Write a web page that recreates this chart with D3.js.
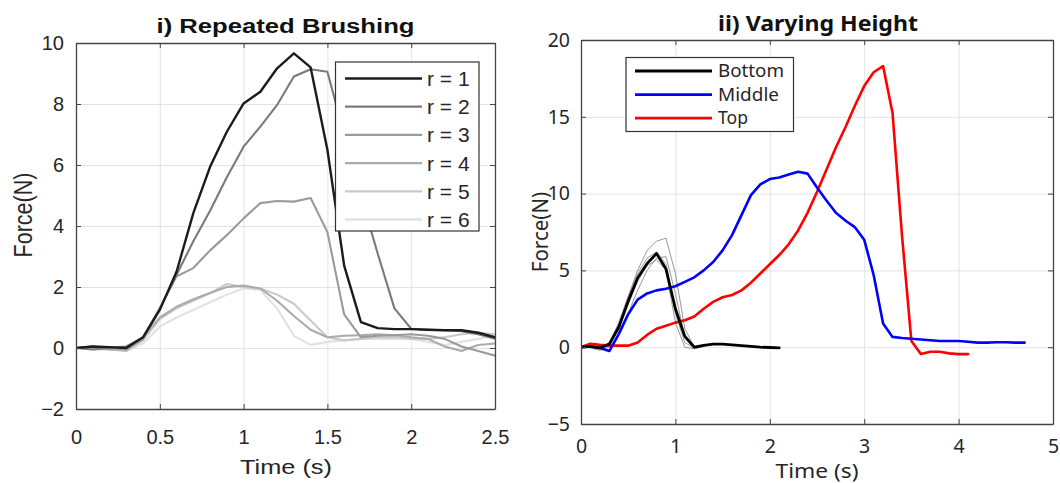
<!DOCTYPE html>
<html>
<head>
<meta charset="utf-8">
<script src="https://cdn.jsdelivr.net/npm/d3@7"></script>
<style>
  html, body { margin: 0; padding: 0; background: #fff; }
  svg { display: block; }
</style>
</head>
<body>
<svg id="chart" width="1060" height="483"></svg>
<script>
// ---------------- DATA ----------------
// Panel i) Repeated Brushing
const timeBrush = [0,0.1,0.2,0.3,0.4,0.5,0.6,0.7,0.8,0.9,1.0,1.1,1.2,1.3,1.4,1.5,1.6,1.7,1.8,1.9,2.0,2.1,2.2,2.3,2.4,2.5];
const brushLabels = ["r = 1","r = 2","r = 3","r = 4","r = 5","r = 6"];
const brushR1 = [0,0.05,0.03,0.0,0.35,1.25,2.5,4.42,5.94,7.09,8.02,8.4,9.17,9.66,9.2,6.5,2.7,0.85,0.65,0.62,0.62,0.6,0.58,0.58,0.5,0.35];
const brushR2 = [0,-0.05,0.0,0.05,0.35,1.3,2.4,3.5,4.5,5.6,6.6,7.26,7.97,8.9,9.14,9.06,7.0,5.0,3.1,1.3,0.63,0.6,0.58,0.55,0.45,0.3];
const brushR3 = [0,0.05,0.0,-0.05,0.3,1.3,2.35,2.62,3.2,3.7,4.25,4.75,4.82,4.8,4.92,3.8,1.1,0.35,0.4,0.42,0.45,0.4,0.3,0.05,-0.1,-0.25];
const brushR4 = [0,0.05,-0.05,-0.05,0.35,1.0,1.35,1.6,1.8,2.0,2.05,1.95,1.55,1.05,0.6,0.35,0.4,0.42,0.45,0.42,0.35,0.3,0.05,-0.1,0.1,0.15];
const brushR5 = [0,0.0,-0.05,-0.1,0.25,0.95,1.3,1.55,1.8,2.1,2.0,1.95,1.75,1.45,0.9,0.35,0.25,0.3,0.35,0.35,0.3,0.3,0.35,0.45,0.5,0.45];
const brushR6 = [0,-0.05,-0.05,-0.1,0.15,0.7,1.0,1.25,1.5,1.75,1.95,1.9,1.3,0.4,0.1,0.2,0.25,0.3,0.3,0.3,0.3,0.2,0.1,0.2,0.3,0.4];
const brushColors = ["#1c1c1c","#7a7a7a","#9a9a9a","#ababab","#c9c9c9","#e2e2e2"];
const brushXTicks = [0,0.5,1,1.5,2,2.5];
const brushYTicks = [-2,0,2,4,6,8,10];

// Panel ii) Varying Height
const timeBottom = [0,0.1,0.2,0.3,0.4,0.5,0.6,0.7,0.8,0.9,1.0,1.1,1.2,1.3,1.4,1.5,1.6,1.7,1.8,1.9,2.0,2.1];
const forceBottom = [0,0.05,-0.05,0.2,1.3,3.0,4.5,5.45,6.1,5.1,2.5,0.7,0.0,0.12,0.2,0.2,0.15,0.1,0.05,0.0,-0.02,-0.05];
const timeTrial = [0,0.1,0.2,0.3,0.4,0.5,0.6,0.7,0.8,0.9,1.0,1.1,1.2,1.3];
const trial1 = [0,0.0,-0.1,0.3,1.5,3.3,5.0,6.3,6.9,7.1,4.8,1.2,0.0,0.1];
const trial2 = [0,-0.05,-0.2,0.0,0.8,2.2,3.7,5.0,5.8,5.9,3.5,0.6,-0.1,0.05];
const trial3 = [0,0.05,0.0,0.3,1.6,3.3,4.8,5.8,6.2,5.4,2.2,0.3,-0.05,0.1];
const trial4 = [0,0.0,-0.1,0.1,1.2,2.8,4.3,5.3,5.7,5.0,1.6,0.0,-0.1,0.05];
const timeMiddle = [0,0.1,0.2,0.3,0.4,0.5,0.6,0.7,0.8,0.9,1.0,1.1,1.2,1.3,1.4,1.5,1.6,1.7,1.8,1.9,2.0,2.1,2.2,2.3,2.4,2.5,2.6,2.7,2.8,2.9,3.0,3.1,3.2,3.3,3.4,3.5,3.6,3.7,3.8,3.9,4.0,4.1,4.2,4.3,4.4,4.5,4.6,4.7];
const forceMiddle = [0,0.05,-0.05,-0.25,0.85,2.15,3.1,3.5,3.7,3.8,3.97,4.25,4.55,5.0,5.55,6.3,7.3,8.6,9.9,10.6,10.95,11.05,11.25,11.42,11.3,10.4,9.55,8.75,8.25,7.82,7.0,4.7,1.55,0.67,0.6,0.55,0.5,0.45,0.4,0.4,0.4,0.35,0.3,0.3,0.32,0.32,0.3,0.3];
const timeTop = [0,0.1,0.2,0.3,0.4,0.5,0.6,0.7,0.8,0.9,1.0,1.1,1.2,1.3,1.4,1.5,1.6,1.7,1.8,1.9,2.0,2.1,2.2,2.3,2.4,2.5,2.6,2.7,2.8,2.9,3.0,3.1,3.2,3.3,3.4,3.5,3.6,3.7,3.8,3.9,4.0,4.1];
const forceTop = [0,0.22,0.15,0.1,0.1,0.1,0.3,0.8,1.2,1.4,1.6,1.75,2.0,2.5,2.95,3.25,3.4,3.7,4.2,4.8,5.4,6.0,6.7,7.6,8.75,10.1,11.55,13.0,14.3,15.7,17.0,17.9,18.3,15.25,7.3,0.4,-0.45,-0.3,-0.3,-0.4,-0.45,-0.45];
const heightLabels = ["Bottom","Middle","Top"];
const heightColors = ["#000000","#0000ff","#ff0000"];
const heightXTicks = [0,1,2,3,4,5];
const heightYTicks = [-5,0,5,10,15,20];

// ---------------- DRAW ----------------
const svg = d3.select("#chart");
const TXT = "#262626";

function panel(cfg) {
  const x = d3.scaleLinear().domain(cfg.xDomain).range([cfg.left, cfg.right]);
  const y = d3.scaleLinear().domain(cfg.yDomain).range([cfg.bottom, cfg.top]);
  const g = svg.append("g");
  const W = cfg.right - cfg.left, H = cfg.bottom - cfg.top;

  // grid
  g.append("g").attr("transform", `translate(0,${cfg.bottom})`)
    .call(d3.axisBottom(x).tickValues(cfg.xTicks).tickSize(-H).tickFormat(""))
    .call(a => a.select(".domain").remove())
    .call(a => a.selectAll("line").attr("stroke", "#e3e3e3").attr("stroke-width", 1));
  g.append("g").attr("transform", `translate(${cfg.left},0)`)
    .call(d3.axisLeft(y).tickValues(cfg.yTicks).tickSize(-W).tickFormat(""))
    .call(a => a.select(".domain").remove())
    .call(a => a.selectAll("line").attr("stroke", "#e3e3e3").attr("stroke-width", 1));

  const clip = "clip" + cfg.id;
  svg.append("clipPath").attr("id", clip).append("rect")
    .attr("x", cfg.left).attr("y", cfg.top).attr("width", W).attr("height", H);
  const lines = g.append("g").attr("clip-path", `url(#${clip})`);
  const line = d3.line().x(d => x(d[0])).y(d => y(d[1]));
  cfg.series.forEach(s => {
    lines.append("path")
      .attr("d", line(s.t.map((t, i) => [t, s.v[i]])))
      .attr("fill", "none").attr("stroke", s.color)
      .attr("stroke-width", s.w).attr("stroke-linejoin", "round").attr("stroke-linecap", "round");
  });

  // axes (ticks inward on all four sides)
  const styleAxis = a => {
    a.select(".domain").attr("stroke", "#444").attr("stroke-width", 1.3);
    a.selectAll(".tick line").attr("stroke", "#444").attr("stroke-width", 1);
    a.selectAll("text").attr("fill", TXT).attr("font-family", cfg.font).attr("font-size", cfg.tickSize + "px");
  };
  g.append("g").attr("transform", `translate(0,${cfg.bottom})`)
    .call(d3.axisBottom(x).tickValues(cfg.xTicks).tickSizeInner(-5).tickSizeOuter(0).tickPadding(cfg.xPad).tickFormat(d3.format("~g")))
    .call(styleAxis);
  g.append("g").attr("transform", `translate(0,${cfg.top})`)
    .call(d3.axisTop(x).tickValues(cfg.xTicks).tickSizeInner(-5).tickSizeOuter(0).tickFormat(""))
    .call(styleAxis);
  g.append("g").attr("transform", `translate(${cfg.left},0)`)
    .call(d3.axisLeft(y).tickValues(cfg.yTicks).tickSizeInner(-5).tickSizeOuter(0).tickPadding(cfg.yPad).tickFormat(d3.format("~g")))
    .call(styleAxis);
  g.append("g").attr("transform", `translate(${cfg.right},0)`)
    .call(d3.axisRight(y).tickValues(cfg.yTicks).tickSizeInner(-5).tickSizeOuter(0).tickFormat(""))
    .call(styleAxis);

  // title
  g.append("text").attr("x", cfg.titleX).attr("y", cfg.titleY)
    .attr("text-anchor", "middle").attr("font-family", cfg.titleFont)
    .attr("font-weight", "bold").attr("font-size", cfg.titleSize + "px").attr("fill", "#111")
    .attr("textLength", cfg.titleLen).attr("lengthAdjust", "spacingAndGlyphs")
    .text(cfg.title);
  // x label
  g.append("text").attr("x", cfg.xLabelX).attr("y", cfg.xLabelY)
    .attr("text-anchor", "middle").attr("font-family", cfg.font)
    .attr("font-size", cfg.labelSize + "px").attr("fill", TXT)
    .attr("textLength", cfg.xLabelLen).attr("lengthAdjust", "spacingAndGlyphs")
    .text("Time (s)");
  // y label
  g.append("text")
    .attr("transform", `translate(${cfg.yLabelX},${cfg.yLabelY}) rotate(-90) scale(1,${cfg.yLabelStretch})`)
    .attr("text-anchor", "middle").attr("font-family", cfg.font)
    .attr("font-size", cfg.yLabelSize + "px").attr("fill", TXT)
    .text("Force(N)");

  // legend
  const L = cfg.legend;
  const lg = g.append("g");
  lg.append("rect").attr("x", L.x).attr("y", L.y).attr("width", L.w).attr("height", L.h)
    .attr("fill", "#fff").attr("stroke", "#333").attr("stroke-width", 1.2);
  L.items.forEach((it, i) => {
    const cy = L.firstY + i * L.step;
    lg.append("line").attr("x1", L.lx1).attr("x2", L.lx2).attr("y1", cy).attr("y2", cy)
      .attr("stroke", it.color).attr("stroke-width", L.lw);
    lg.append("text").attr("x", L.tx).attr("y", cy).attr("dy", "0.36em")
      .attr("font-family", cfg.font).attr("font-size", L.size + "px").attr("fill", TXT)
      .attr("textLength", L.len ? L.len[i] : null).attr("lengthAdjust", "spacingAndGlyphs")
      .text(it.label);
  });
}

const brushSeries = [brushR6, brushR5, brushR4, brushR3, brushR2, brushR1];
panel({
  id: "A",
  left: 76, right: 495, top: 43, bottom: 409,
  xDomain: [0, 2.5], yDomain: [-2, 10],
  xTicks: brushXTicks, yTicks: brushYTicks,
  font: "'Liberation Sans', Arial, sans-serif", tickSize: 20, xPad: 21, yPad: 12,
  titleFont: "'Liberation Sans', Arial, sans-serif", titleSize: 20, title: "i) Repeated Brushing",
  titleX: 285.5, titleY: 33, titleLen: 258,
  labelSize: 21, xLabelX: 286, xLabelY: 474, xLabelLen: 92,
  yLabelX: 32, yLabelY: 215, yLabelSize: 21.5, yLabelStretch: 1.2,
  series: brushSeries.map((v, k) => ({ t: timeBrush, v: v, color: brushColors[5 - k], w: k === 5 ? 2.4 : 2.1 })),
  legend: {
    x: 335.5, y: 62, w: 143.5, h: 169,
    lx1: 345, lx2: 422, tx: 427, firstY: 78.5, step: 28.2, lw: 2.3, size: 21,
    items: brushLabels.map((l, i) => ({ label: l, color: brushColors[i] }))
  }
});

const trialSeries = [trial1, trial2, trial3, trial4].map(v => ({ t: timeTrial, v: v, color: "#8c8c8c", w: 0.9 }));
panel({
  id: "B",
  left: 581, right: 1053, top: 40, bottom: 424,
  xDomain: [0, 5], yDomain: [-5, 20],
  xTicks: heightXTicks, yTicks: heightYTicks,
  font: "'Noto Sans', 'Open Sans', sans-serif", tickSize: 19.5, xPad: 15, yPad: 11,
  titleFont: "'Noto Sans', 'Open Sans', sans-serif", titleSize: 21, title: "ii) Varying Height",
  titleX: 818, titleY: 31, titleLen: 200,
  labelSize: 20.5, xLabelX: 817, xLabelY: 478, xLabelLen: 83,
  yLabelX: 548, yLabelY: 232, yLabelSize: 20.5, yLabelStretch: 1.05,
  series: trialSeries.concat([
    { t: timeTop, v: forceTop, color: heightColors[2], w: 2.6 },
    { t: timeMiddle, v: forceMiddle, color: heightColors[1], w: 2.6 },
    { t: timeBottom, v: forceBottom, color: heightColors[0], w: 2.8 }
  ]),
  legend: {
    x: 626, y: 57.5, w: 167.5, h: 74,
    lx1: 635, lx2: 712, tx: 718, firstY: 71, step: 23.6, lw: 2.8, size: 17.3,
    len: [66, 61, 30],
    items: heightLabels.map((l, i) => ({ label: l, color: heightColors[i] }))
  }
});
</script>
</body>
</html>
